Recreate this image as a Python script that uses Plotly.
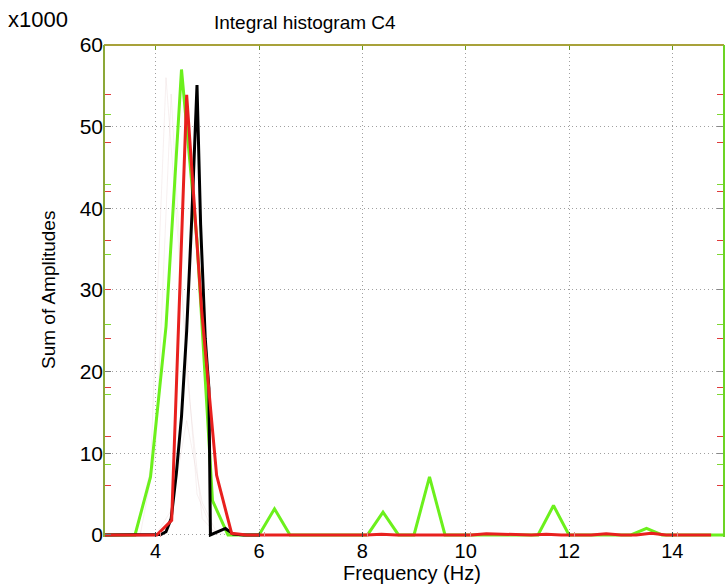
import plotly.graph_objects as go

# ---------------- data (Sum of Amplitudes, x1000) ----------------
freq_green = [3.0, 3.3, 3.6, 3.9, 4.2, 4.5, 4.8, 5.1, 5.4, 5.7, 6.0, 6.3, 6.6, 6.9, 7.2,
              7.5, 7.8, 8.1, 8.4, 8.7, 9.0, 9.3, 9.6, 9.9, 10.2, 10.5, 10.8, 11.1, 11.4,
              11.7, 12.0, 12.3, 12.6, 12.9, 13.2, 13.5, 13.8, 14.1, 14.4, 14.7, 15.0]
amp_green = [0, 0, 0, 7.1, 25.5, 57.0, 36.0, 4.2, 0, 0, 0, 3.2, 0, 0, 0,
             0, 0, 0, 2.8, 0, 0, 7.1, 0, 0, 0, 0, 0, 0, 0,
             3.6, 0, 0, 0, 0, 0, 0.8, 0, 0, 0, 0, 0]

freq_red = [2.86, 3.15, 3.44, 3.73, 4.02, 4.31, 4.60, 4.89, 5.18, 5.47, 5.76, 6.05, 6.34,
            6.63, 6.92, 7.21, 7.50, 7.79, 8.08, 8.37, 8.66, 8.95, 9.24, 9.53, 9.82, 10.11,
            10.40, 10.69, 10.98, 11.27, 11.56, 11.85, 12.14, 12.43, 12.72, 13.01, 13.30,
            13.59, 13.88, 14.17, 14.46, 14.75]
amp_red = [0, 0, 0, 0, 0, 1.8, 53.9, 27.5, 7.3, 0.2, 0, 0, 0,
           0, 0, 0, 0, 0, 0, 0.1, 0, 0, 0, 0, 0, 0,
           0.15, 0.1, 0, 0, 0.1, 0, 0, 0, 0.15, 0, 0,
           0.2, 0, 0, 0, 0]

freq_black = [3.0, 3.5, 4.0, 4.1, 4.2, 4.3, 4.4, 4.5, 4.6, 4.7, 4.8, 4.87, 4.96, 5.03,
              5.06, 5.2, 5.35, 5.5, 5.7, 6.0]
amp_black = [0, 0, 0, 0.05, 0.4, 2.0, 7.5, 14.5, 25.0, 39.0, 55.1, 38.0, 24.0, 18.0,
             0, 0.4, 0.8, 0.1, 0, 0]

# faint background curves
freq_faint1 = [3.6, 3.9, 4.2, 4.5, 4.8, 5.1, 5.4]
amp_faint1 = [0, 8, 56, 30, 5, 0.5, 0]
freq_faint2 = [3.7, 4.0, 4.3, 4.6, 4.9, 5.2]
amp_faint2 = [0, 10, 54, 20, 2, 0]
freq_faint3 = [4.0, 4.3, 4.6, 4.9, 5.2]
amp_faint3 = [0, 3, 14, 4, 0]

x_ticks = [4, 6, 8, 10, 12, 14]
y_ticks = [0, 10, 20, 30, 40, 50, 60]
red_ticks = [6, 12, 18, 24, 30, 36, 42, 48, 54]
green_ticks = [8.571, 17.143, 25.714, 34.286, 42.857, 51.429]
grey_ticks = [10, 20, 30, 40, 50]
x_red_ticks = [4.1, 6.1, 8.1, 10.1, 12.1, 14.1]

FONT = "Arial, Liberation Sans, sans-serif"
YR = [-0.25, 60]
GRID = "#a0a0a0"
GDASH = "1px,3px"

fig = go.Figure()

for fx, fy in [(freq_faint1, amp_faint1), (freq_faint2, amp_faint2), (freq_faint3, amp_faint3)]:
    fig.add_trace(go.Scatter(x=fx, y=fy, mode="lines",
                             line=dict(color="rgba(225,200,200,0.28)", width=1),
                             showlegend=False, hoverinfo="skip"))

fig.add_trace(go.Scatter(x=freq_green, y=amp_green, mode="lines",
                         line=dict(color="#6cf01c", width=3), showlegend=False))
fig.add_trace(go.Scatter(x=freq_black, y=amp_black, mode="lines",
                         line=dict(color="#000000", width=3), showlegend=False))
fig.add_trace(go.Scatter(x=freq_red, y=amp_red, mode="lines",
                         line=dict(color="#e8201e", width=3), showlegend=False))

# dummy traces so overlay axes are drawn
for xa, ya in [("x", "y2"), ("x", "y3"), ("x", "y4"), ("x", "y5"), ("x", "y6"),
               ("x2", "y"), ("x3", "y")]:
    fig.add_trace(go.Scatter(x=[None], y=[None], xaxis=xa, yaxis=ya,
                             showlegend=False, hoverinfo="skip"))

tick_axis = dict(range=YR, showgrid=False, zeroline=False, showline=False,
                 showticklabels=False, ticks="inside", ticklen=7, overlaying="y",
                 anchor="x")

fig.update_layout(
    width=726, height=585,
    margin=dict(l=104, r=2, t=45, b=48),
    paper_bgcolor="white", plot_bgcolor="white",
    font=dict(family=FONT, color="black"),
    xaxis=dict(range=[3, 15], tickvals=x_ticks, ticktext=[str(v) for v in x_ticks],
               showgrid=True, gridcolor=GRID, griddash=GDASH, gridwidth=1,
               zeroline=False, showline=False, ticks="inside", ticklen=5,
               tickcolor="#444", tickfont=dict(size=20, family=FONT)),
    yaxis=dict(range=YR, tickvals=y_ticks, ticktext=[str(v) for v in y_ticks],
               showgrid=True, gridcolor=GRID, griddash=GDASH, gridwidth=1,
               zeroline=False, showline=False, ticks="inside", ticklen=7,
               tickcolor="#777", tickfont=dict(size=21, family=FONT)),
    yaxis2=dict(tick_axis, side="left", tickvals=red_ticks, tickcolor="#e03a3a"),
    yaxis3=dict(tick_axis, side="right", tickvals=red_ticks, tickcolor="#e03a3a"),
    yaxis4=dict(tick_axis, side="left", tickvals=green_ticks, tickcolor="#7ed830"),
    yaxis5=dict(tick_axis, side="right", tickvals=green_ticks, tickcolor="#7ed830"),
    yaxis6=dict(tick_axis, side="right", tickvals=grey_ticks, tickcolor="#888"),
    xaxis2=dict(range=[3, 15], overlaying="x", anchor="y", side="top",
                tickvals=x_ticks, ticks="inside", ticklen=5, tickcolor="#6a9a20",
                showticklabels=False, showgrid=False, zeroline=False, showline=False),
    xaxis3=dict(range=[3, 15], overlaying="x", anchor="y", side="bottom",
                tickvals=x_red_ticks, ticks="inside", ticklen=5, tickcolor="#e09090",
                showticklabels=False, showgrid=False, zeroline=False, showline=False),
    shapes=[
        dict(type="line", xref="paper", yref="paper", x0=0, x1=1, y0=1, y1=1,
             line=dict(color="#a8a23a", width=2), layer="above"),
        dict(type="line", xref="paper", yref="paper", x0=0, x1=0, y0=0, y1=1,
             line=dict(color="#8ca838", width=2), layer="above"),
        dict(type="line", xref="paper", yref="paper", x0=1, x1=1, y0=0, y1=1,
             line=dict(color="#6cd424", width=2), layer="above"),
    ],
    annotations=[
        dict(text="x1000", xref="paper", yref="paper", x=(6 - 104) / 620, y=1 + (45 - 19) / 492,
             xanchor="left", yanchor="middle", showarrow=False,
             font=dict(size=22, family=FONT)),
        dict(text="Integral histogram C4", xref="paper", yref="paper",
             x=(305 - 104) / 620, y=1 + (45 - 22) / 492, xanchor="center", yanchor="middle",
             showarrow=False, font=dict(size=19, family=FONT)),
        dict(text="Frequency (Hz)", xref="paper", yref="paper",
             x=(412 - 104) / 620, y=-(573 - 537) / 492, xanchor="center", yanchor="middle",
             showarrow=False, font=dict(size=20, family=FONT)),
        dict(text="Sum of Amplitudes", xref="paper", yref="paper", textangle=-90,
             x=(48 - 104) / 620, y=(537 - 290) / 492, xanchor="center", yanchor="middle",
             showarrow=False, font=dict(size=19, family=FONT)),
    ],
)

fig.write_html("out.html")
